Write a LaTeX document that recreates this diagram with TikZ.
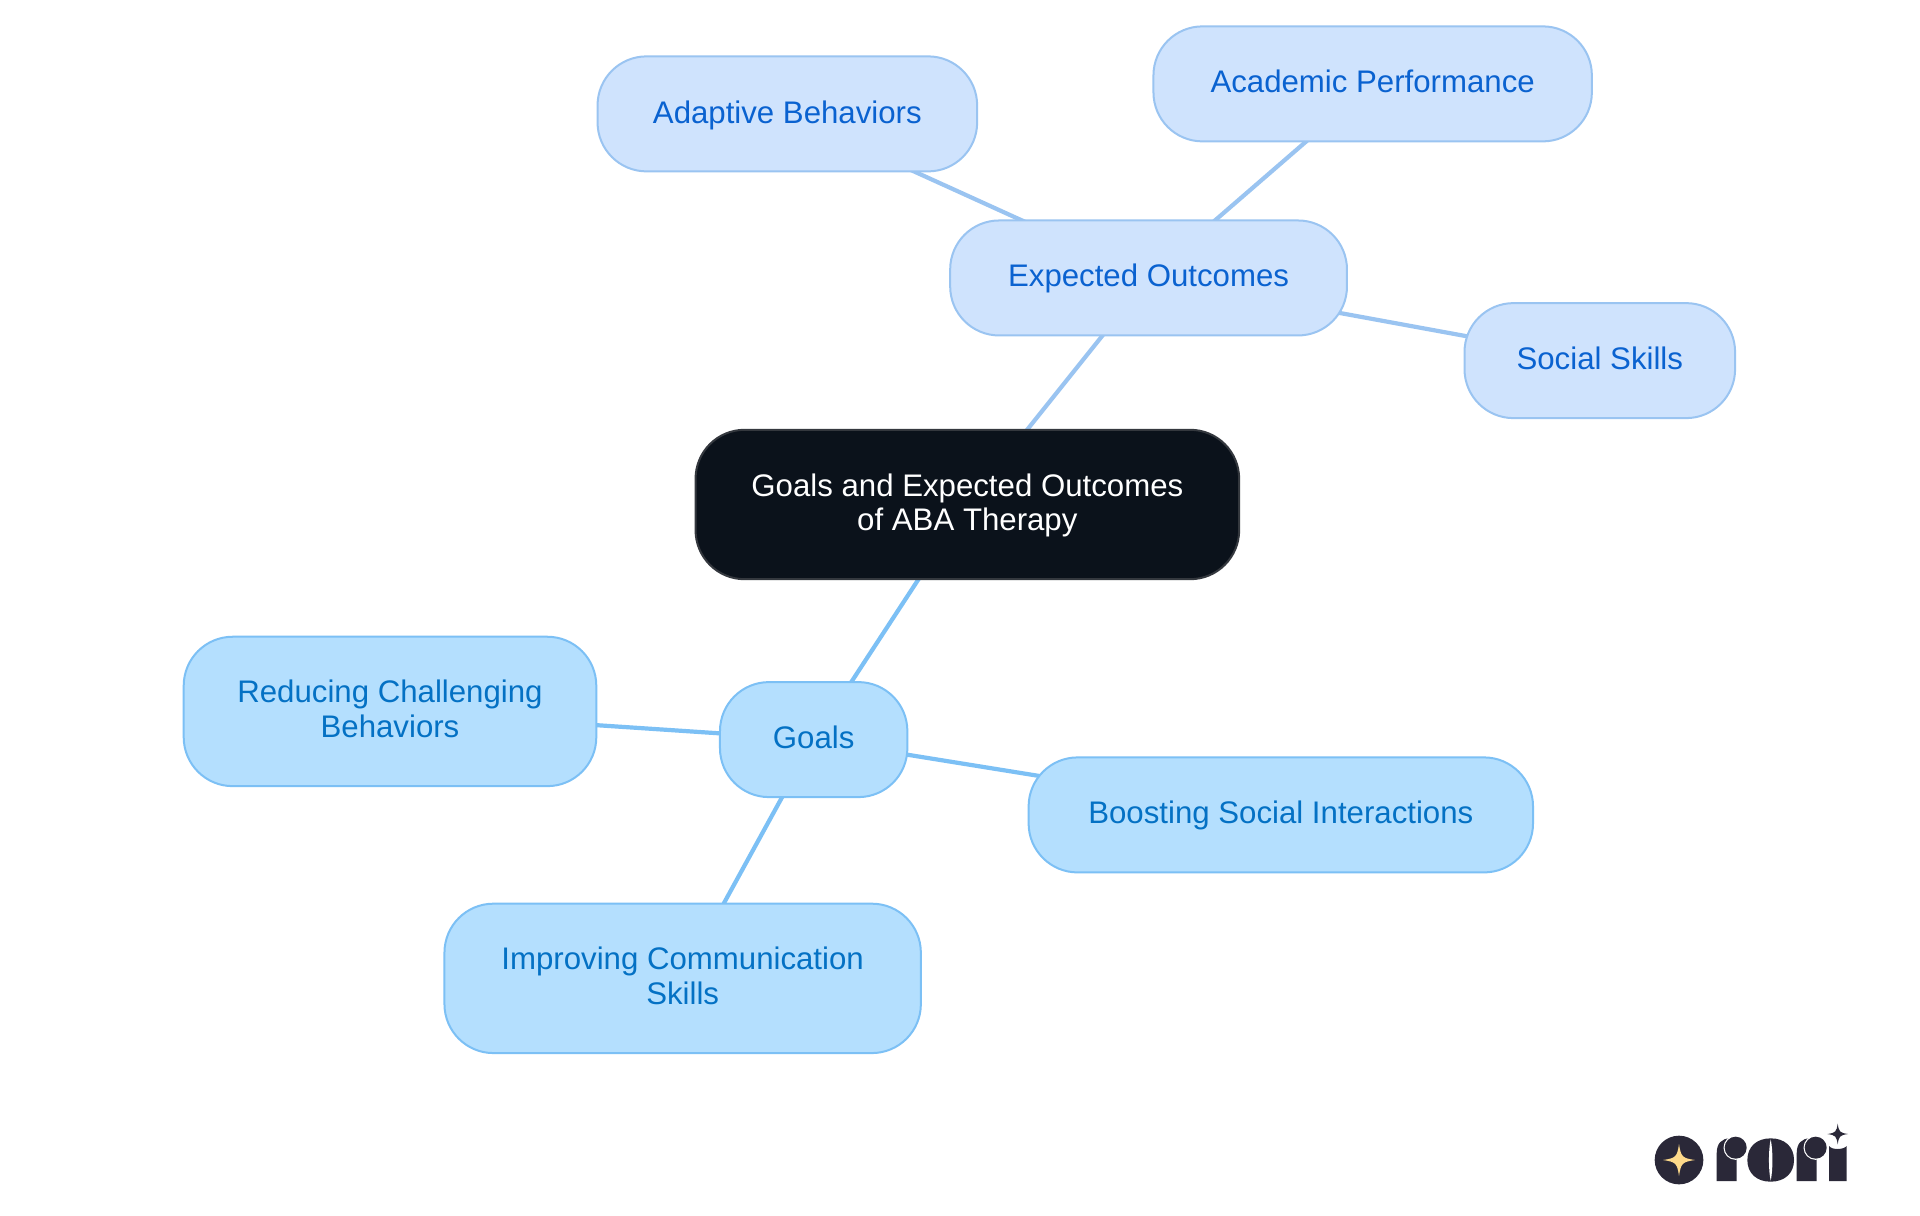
\documentclass[tikz,border=0pt]{standalone}
\usepackage{fontspec}
\setmainfont{Liberation Sans}
\usetikzlibrary{backgrounds}
\definecolor{rootfill}{HTML}{0B121B}
\definecolor{rootline}{HTML}{34383E}
\definecolor{upfill}{HTML}{CFE3FD}
\definecolor{upline}{HTML}{9AC4F1}
\definecolor{uptext}{HTML}{0A62D0}
\definecolor{lowfill}{HTML}{B4DFFE}
\definecolor{lowline}{HTML}{7CC0F5}
\definecolor{lowtext}{HTML}{0471C4}
\definecolor{logoink}{HTML}{2A2838}
\definecolor{logogold}{HTML}{FDD98A}
\newcommand{\logostar}[4]{%
  \fill[#4] (#1-#3,#2) .. controls (#1-#3*0.2,#2-#3*0.12) and (#1-#3*0.12,#2-#3*0.2) .. (#1,#2-#3)
   .. controls (#1+#3*0.12,#2-#3*0.2) and (#1+#3*0.2,#2-#3*0.12) .. (#1+#3,#2)
   .. controls (#1+#3*0.2,#2+#3*0.12) and (#1+#3*0.12,#2+#3*0.2) .. (#1,#2+#3)
   .. controls (#1-#3*0.12,#2+#3*0.2) and (#1-#3*0.2,#2+#3*0.12) .. (#1-#3,#2) -- cycle;}
\newcommand{\logor}[1]{%
  \fill[logoink] (#1,243) -- (#1,160) .. controls (#1,130) and (#1+15,115) .. (#1+40,115)
   -- (#1+60,115) -- (#1+60,243) -- cycle;
  \fill[white] (#1+57,143) circle (36.5);
  \fill[logoink] (#1+57,143) circle (33);}
\newcommand{\lifted}[2]{\raisebox{\dimexpr#1-3.9pt\relax}[0pt][0pt]{\begin{tabular}{@{}c@{}}#2\end{tabular}}}
\tikzset{
  mapnode/.style={rectangle,rounded corners=24.5pt,line width=1pt,align=center,inner sep=0pt,
    font=\fontsize{15.6pt}{17.15pt}\selectfont},
  rootnode/.style={mapnode,draw=rootline,fill=rootfill,text=white},
  upnode/.style={mapnode,draw=upline,fill=upfill,text=uptext},
  lownode/.style={mapnode,draw=lowline,fill=lowfill,text=lowtext},
  upedge/.style={draw=upline,line width=2.1pt},
  lowedge/.style={draw=lowline,line width=2.1pt}
}
\begin{document}
\begin{tikzpicture}[x=0.61224pt,y=-0.61224pt]
\useasboundingbox (0,0) rectangle (1568,992.25);
\node[rootnode,minimum width=271.8pt,minimum height=74.7pt] (root) at (790,412) {\lifted{-0.6pt}{Goals and Expected Outcomes\\of ABA Therapy}};
\node[upnode,minimum width=198.4pt,minimum height=57.5pt] (expected) at (938,227) {\lifted{-0.6pt}{Expected Outcomes}};
\node[upnode,minimum width=189.8pt,minimum height=57.5pt] (adaptive) at (643,93) {\lifted{-0.9pt}{Adaptive Behaviors}};
\node[upnode,minimum width=219.2pt,minimum height=57.5pt] (academic) at (1121,68.5) {\lifted{-0.6pt}{Academic Performance}};
\node[upnode,minimum width=135.3pt,minimum height=57.5pt] (social) at (1306.5,294.5) {\lifted{-0.6pt}{Social Skills}};
\node[lownode,minimum width=93.7pt,minimum height=57.5pt] (goals) at (664.5,604) {\lifted{-0.6pt}{Goals}};
\node[lownode,minimum width=206.3pt,minimum height=74.7pt] (reducing) at (318.5,581) {\lifted{-0.6pt}{Reducing Challenging\\Behaviors}};
\node[lownode,minimum width=252.2pt,minimum height=57.5pt] (boosting) at (1046,665.5) {\lifted{-0.6pt}{Boosting Social Interactions}};
\node[lownode,minimum width=238.2pt,minimum height=74.7pt] (improving) at (557.5,799) {\lifted{-0.6pt}{Improving Communication\\Skills}};
\begin{scope}[on background layer]
\fill[white] (0,0) rectangle (1568,992.25);
\draw[upedge] (root.center) -- (expected.center);
\draw[upedge] (expected.center) -- (adaptive.center);
\draw[upedge] (expected.center) -- (academic.center);
\draw[upedge] (expected.center) -- (social.center);
\draw[lowedge] (root.center) -- (goals.center);
\draw[lowedge] (goals.center) -- (reducing.center);
\draw[lowedge] (goals.center) -- (boosting.center);
\draw[lowedge] (goals.center) -- (improving.center);
\end{scope}
\begin{scope}[shift={(810pt,-550pt)},x=0.16667pt,y=-0.16667pt]
\fill[logoink] (177,180) circle (73);
\logostar{177}{180}{48}{logogold}
\logor{290}
\fill[logoink] (382,180) .. controls (382,140) and (410,115) .. (452,115) .. controls (494,115) and (522,140) .. (522,180) .. controls (522,220) and (494,245) .. (452,245) .. controls (410,245) and (382,220) .. (382,180) -- cycle;
\fill[white] (452,118) .. controls (445,150) and (445,210) .. (452,242) .. controls (459,210) and (459,150) .. (452,118) -- cycle;
\logor{530}
\fill[logoink] (627,243) -- (627,138) .. controls (635,150) and (670,150) .. (680,138) -- (680,243) -- cycle;
\logostar{653}{102}{31}{logoink}
\end{scope}
\end{tikzpicture}
\end{document}
